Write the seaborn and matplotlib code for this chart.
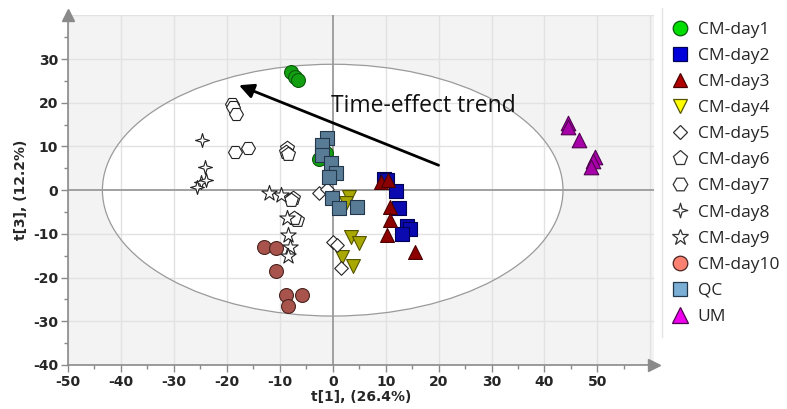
import numpy as np
import pandas as pd
import matplotlib
matplotlib.use("Agg")
import matplotlib.pyplot as plt
import seaborn as sns
from matplotlib.path import Path
from matplotlib.lines import Line2D
from matplotlib.patches import Ellipse

# ---------------- data ----------------
groups = ["CM-day1", "CM-day2", "CM-day3", "CM-day4", "CM-day5", "CM-day6",
          "CM-day7", "CM-day8", "CM-day9", "CM-day10", "QC", "UM"]

day1_x = [-7.9, -7.2, -6.6, -2.6, -1.2]
day1_y = [27.0, 25.9, 25.2, 7.2, 8.6]
day2_x = [9.6, 10.2, 11.9, 12.5, 14.0, 14.6, 13.0]
day2_y = [2.6, 2.3, -0.2, -4.1, -8.3, -8.9, -10.0]
day3_x = [9.1, 10.4, 10.9, 10.8, 10.2, 15.5]
day3_y = [1.8, 2.3, -3.9, -6.9, -10.3, -14.2]
day4_x = [3.0, 2.6, 3.4, 4.9, 1.7, 3.8]
day4_y = [-1.6, -3.0, -10.8, -12.1, -15.3, -17.4]
day5_x = [-2.6, -1.1, 0.0, 0.75, 1.5]
day5_y = [-0.7, 0.3, -11.9, -12.6, -17.9]
day6_x = [-8.7, -8.9, -8.5, -7.5, -7.9, -6.8, -7.4]
day6_y = [9.6, 8.7, 8.2, -1.8, -2.3, -6.9, -6.4]
day7_x = [-19.1, -18.9, -18.3, -18.5, -16.0]
day7_y = [19.7, 19.0, 17.4, 8.7, 9.6]
day8_x = [-24.7, -24.2, -24.9, -24.0, -25.7]
day8_y = [11.4, 5.3, 1.8, 2.3, 0.7]
day9_x = [-12.1, -9.8, -8.7, -8.5, -8.1, -8.5]
day9_y = [-0.7, -1.1, -6.4, -10.3, -13.0, -15.1]
day10_x = [-13.0, -10.8, -10.8, -8.9, -5.8, -8.5]
day10_y = [-13.0, -13.3, -18.5, -24.0, -24.0, -26.5]
qc_x = [-1.1, -2.1, -2.1, -0.4, 0.6, -0.75, -0.2, 1.1, 4.5]
qc_y = [11.9, 10.3, 8.0, 6.2, 4.0, 3.0, -1.8, -4.1, -3.9]
um_x = [44.5, 44.5, 46.6, 49.6, 49.2, 48.7]
um_y = [15.3, 14.4, 11.4, 7.6, 6.6, 5.3]

xs = [day1_x, day2_x, day3_x, day4_x, day5_x, day6_x, day7_x, day8_x,
      day9_x, day10_x, qc_x, um_x]
ys = [day1_y, day2_y, day3_y, day4_y, day5_y, day6_y, day7_y, day8_y,
      day9_y, day10_y, qc_y, um_y]

x_ticks = [-50, -40, -30, -20, -10, 0, 10, 20, 30, 40, 50]
y_ticks = [-40, -30, -20, -10, 0, 10, 20, 30]

df = pd.DataFrame({
    "t1": np.concatenate(xs),
    "t3": np.concatenate(ys),
    "group": np.concatenate([[g] * len(x) for g, x in zip(groups, xs)]),
})

# ---------------- styles ----------------
a = 0.22
star4 = Path([(0, 1), (a, a), (1, 0), (a, -a), (0, -1), (-a, -a), (-1, 0), (-a, a), (0, 1)],
             [Path.MOVETO] + [Path.LINETO] * 7 + [Path.CLOSEPOLY])

# (marker, plot face, plot edge, size, legend face)
styles = {
    "CM-day1": ("o", "#12a012", "#0b5a0b", 100, "#00dd00"),
    "CM-day2": ("s", "#0a0ab0", "#000055", 90, "#0000dd"),
    "CM-day3": ("^", "#8c0000", "#4a0000", 100, "#b00000"),
    "CM-day4": ("v", "#a8a800", "#555500", 100, "#ffff00"),
    "CM-day5": ("D", "white", "#222222", 48, "white"),
    "CM-day6": ("p", "white", "#222222", 110, "white"),
    "CM-day7": ("H", "white", "#222222", 100, "white"),
    "CM-day8": (star4, "white", "#222222", 100, "white"),
    "CM-day9": ("*", "white", "#222222", 135, "white"),
    "CM-day10": ("o", "#a8544c", "#4a2420", 100, "#fa8072"),
    "QC": ("s", "#587b96", "#22384a", 90, "#7aaed4"),
    "UM": ("^", "#a800a8", "#500050", 110, "#ee00ee"),
}

sns.set_theme(style="white")
plt.rcParams["font.family"] = ["DejaVu Sans"]
plt.rcParams["axes.unicode_minus"] = False

fig = plt.figure(figsize=(7.87, 4.09), dpi=100)
ax = fig.add_axes([68 / 787, 1 - 365 / 409, 0.744, 0.855])
ax.set_facecolor("#f3f3f3")
ax.set_xlim(-50, 60.6)
ax.set_ylim(-40, 40)

# ellipse (fill below grid)
ax.add_patch(Ellipse((0, 0), 87.0, 57.6, facecolor="white", edgecolor="none", zorder=0.5))
for v in range(-50, 61, 10):
    if v != 0:
        ax.axvline(v, color="#e2e2e2", lw=1.0, zorder=0.8)
for v in range(-40, 41, 10):
    if v != 0:
        ax.axhline(v, color="#e2e2e2", lw=1.0, zorder=0.8)
ax.add_patch(Ellipse((0, 0), 87.0, 57.6, facecolor="none", edgecolor="#9a9a9a", lw=0.9, zorder=0.9))
ax.axvline(0, color="#9a9a9a", lw=1.3, zorder=1)
ax.axhline(0, color="#9a9a9a", lw=1.3, zorder=1)

for g in groups:
    m, fc, ec, s, _ = styles[g]
    sub = df[df["group"] == g]
    sns.scatterplot(data=sub, x="t1", y="t3", marker=m, color=fc, edgecolor=ec,
                    linewidth=0.8, s=s, ax=ax, legend=False, zorder=3)

# trend arrow
ax.annotate("", xy=(-17.7, 24.0), xytext=(20.0, 5.7),
            arrowprops=dict(arrowstyle="-|>", color="black", lw=2.0, mutation_scale=22,
                            shrinkA=0, shrinkB=0), zorder=4)
ax.text(-0.3, 19.3, "Time-effect trend", fontsize=16.5, family="Open Sans",
        ha="left", va="center", color="#111111", zorder=4)

# axes & ticks
for sp in ["top", "right"]:
    ax.spines[sp].set_visible(False)
for sp in ["left", "bottom"]:
    ax.spines[sp].set_color("#8a8a8a")
    ax.spines[sp].set_linewidth(1.2)
ax.set_xticks(x_ticks)
ax.set_yticks(y_ticks)
ax.set_xticks(np.arange(-45, 61, 10), minor=True)
ax.set_yticks(np.arange(-35, 41, 10), minor=True)
ax.tick_params(axis="both", which="major", direction="out", length=5, width=1,
               color="#8a8a8a", labelsize=10, pad=2, bottom=True, left=True)
ax.tick_params(axis="both", which="minor", direction="out", length=3, width=1,
               color="#8a8a8a", bottom=True, left=True)
for lab in ax.get_xticklabels() + ax.get_yticklabels():
    lab.set_fontweight("bold")
ax.set_xlabel("t[1], (26.4%)", fontsize=10, fontweight="bold", labelpad=1)
ax.set_ylabel("t[3], (12.2%)", fontsize=10, fontweight="bold", labelpad=4)

# axis arrowheads
ax.plot([0], [1], marker="^", markersize=8, color="#8a8a8a", transform=ax.transAxes,
        clip_on=False, zorder=5)
ax.plot([1], [0], marker=">", markersize=8, color="#8a8a8a", transform=ax.transAxes,
        clip_on=False, zorder=5)

# legend
handles = []
for g in groups:
    m, fc, ec, s, lfc = styles[g]
    lec = "#333333" if lfc == "white" else ec
    handles.append(Line2D([], [], linestyle="none", marker=m, markerfacecolor=lfc,
                          markeredgecolor=lec, markeredgewidth=0.9,
                          markersize=np.sqrt(s) * 1.05, label=g))
fig.legend(handles=handles, loc="upper left", bbox_to_anchor=(664 / 787, 1 - 14.5 / 409),
           frameon=False, prop={"family": "Open Sans", "size": 12.5},
           handlelength=1.0, handletextpad=0.55, labelspacing=0.575, borderaxespad=0)
fig.add_artist(Line2D([662 / 787, 662 / 787], [1 - 8 / 409, 1 - 337 / 409],
                      color="#e4e4e4", lw=1.0, transform=fig.transFigure))

fig.savefig("out.png", dpi=100)
